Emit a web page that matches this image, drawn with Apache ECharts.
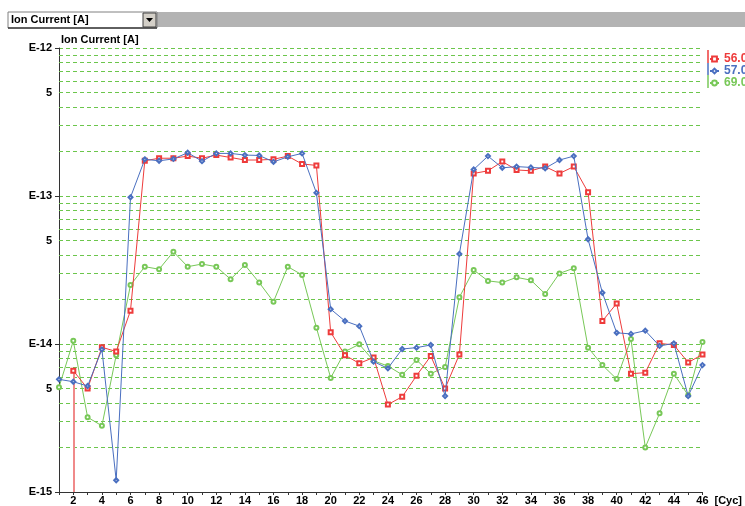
<!DOCTYPE html>
<html>
<head>
<meta charset="utf-8">
<script src="https://cdn.jsdelivr.net/npm/echarts@6/dist/echarts.min.js"></script>
<style>
html,body{margin:0;padding:0;background:#fff;}
#chart{width:745px;height:506px;}
</style>
</head>
<body>
<div id="chart"></div>
<script>
const cycles = [1,2,3,4,5,6,7,8,9,10,11,12,13,14,15,16,17,18,19,20,21,22,23,24,25,26,27,28,29,30,31,32,33,34,35,36,37,38,39,40,41,42,43,44,45,46];
const seriesNames = ['56.00', '57.00', '69.00'];
const ion56 = [null, 6.6e-15, 5.0e-15, 9.5e-15, 8.9e-15, 1.68e-14,
  1.73e-13, 1.80e-13, 1.80e-13, 1.86e-13, 1.80e-13, 1.89e-13, 1.82e-13, 1.75e-13, 1.75e-13, 1.77e-13, 1.86e-13, 1.645e-13, 1.61e-13,
  1.2e-14, 8.4e-15, 7.4e-15, 8.1e-15, 3.9e-15, 4.4e-15, 6.1e-15, 8.3e-15, 5.0e-15, 8.5e-15,
  1.42e-13, 1.48e-13, 1.71e-13, 1.50e-13, 1.48e-13, 1.58e-13, 1.42e-13, 1.58e-13, 1.06e-13,
  1.43e-14, 1.88e-14, 6.3e-15, 6.4e-15, 1.01e-14, 9.85e-15, 7.5e-15, 8.5e-15];
const ion57 = [5.77e-15, 5.56e-15, 5.2e-15, 9.2e-15, 1.2e-15, 0.98e-13,
  1.77e-13, 1.73e-13, 1.78e-13, 1.96e-13, 1.72e-13, 1.94e-13, 1.94e-13, 1.89e-13, 1.88e-13, 1.70e-13, 1.84e-13, 1.94e-13, 1.05e-13,
  1.72e-14, 1.43e-14, 1.32e-14, 7.6e-15, 6.85e-15, 9.25e-15, 9.45e-15, 9.85e-15, 4.45e-15, 4.06e-14,
  1.51e-13, 1.86e-13, 1.55e-13, 1.58e-13, 1.56e-13, 1.54e-13, 1.75e-13, 1.86e-13, 5.1e-14,
  2.22e-14, 1.19e-14, 1.17e-14, 1.23e-14, 9.7e-15, 1.01e-14, 4.45e-15, 7.2e-15];
const ion69 = [5.1e-15, 1.05e-14, 3.2e-15, 2.8e-15, 8.4e-15, 2.5e-14,
  3.33e-14, 3.2e-14, 4.2e-14, 3.33e-14, 3.47e-14, 3.33e-14, 2.74e-14, 3.42e-14, 2.6e-14, 1.93e-14, 3.33e-14, 2.93e-14, 1.29e-14,
  5.9e-15, 8.9e-15, 9.95e-15, 7.7e-15, 7.1e-15, 6.2e-15, 7.8e-15, 6.3e-15, 7.0e-15, 2.07e-14,
  3.16e-14, 2.67e-14, 2.6e-14, 2.82e-14, 2.7e-14, 2.18e-14, 3.0e-14, 3.25e-14, 9.45e-15,
  7.2e-15, 5.8e-15, 1.08e-14, 2.0e-15, 3.4e-15, 6.3e-15, 4.5e-15, 1.03e-14];
const minorGrid = [2e-15,3e-15,4e-15,5e-15,6e-15,7e-15,8e-15,9e-15,
  2e-14,3e-14,4e-14,5e-14,6e-14,7e-14,8e-14,9e-14,
  2e-13,3e-13,4e-13,5e-13,6e-13,7e-13,8e-13,9e-13];
const fiveLabels = [5e-15, 5e-14, 5e-13];
const cursorCycle = 2;

const RED = '#ee3b3b', BLUE = '#4a6fc0', GREEN = '#78c858', GRID = '#6cc64c';
const FONT = '"Liberation Sans", Arial, sans-serif';

const pairs = arr => cycles.map((c, i) => [c, arr[i]]);
const xFirst = cycles[0], xLast = cycles[cycles.length - 1];

const chart = echarts.init(document.getElementById('chart'), null, {renderer: 'canvas'});

const gridLines = minorGrid.map(v => {
  const isFive = fiveLabels.indexOf(v) >= 0;
  const label = isFive
    ? {show: true, position: 'start', formatter: '5', color: '#000', fontWeight: 'bold', fontSize: 11, fontFamily: FONT, distance: 7}
    : {show: false};
  return [{coord: [xFirst, v], label: label}, {coord: [xLast, v]}];
});

const cursorIdx = cycles.indexOf(cursorCycle);

chart.setOption({
  animation: false,
  backgroundColor: '#fff',
  grid: {left: 59, right: 40, top: 48, bottom: 14, containLabel: false},
  legend: {
    orient: 'vertical', left: 709, top: 53, itemWidth: 9, itemHeight: 6, itemGap: 0, padding: 0,
    textStyle: {fontSize: 12, lineHeight: 12, fontWeight: 'bold', fontFamily: FONT},
    data: [
      {name: seriesNames[0], textStyle: {color: RED}},
      {name: seriesNames[1], textStyle: {color: BLUE}},
      {name: seriesNames[2], textStyle: {color: GREEN}}
    ]
  },
  xAxis: {
    type: 'value', min: 1, max: 46, interval: 1,
    name: '[Cyc]', nameLocation: 'end', nameGap: 11,
    nameTextStyle: {color: '#000', fontWeight: 'bold', fontSize: 11, fontFamily: FONT, verticalAlign: 'top', padding: [3, 0, 0, 0]},
    axisLine: {show: true, onZero: false, lineStyle: {color: '#333', width: 1}},
    axisTick: {show: true, length: 3, inside: false, lineStyle: {color: '#333'}},
    axisLabel: {margin: 3, color: '#000', fontWeight: 'bold', fontSize: 11, fontFamily: FONT,
      formatter: v => (v % 2 === 0 ? String(v) : '')},
    splitLine: {show: false}
  },
  yAxis: {
    type: 'log', logBase: 10, min: 1e-15, max: 1e-12,
    name: 'Ion Current [A]', nameLocation: 'end', nameGap: 3,
    nameTextStyle: {color: '#000', fontWeight: 'bold', fontSize: 11, fontFamily: FONT, align: 'left', padding: [0, 0, 0, 2]},
    axisLine: {show: true, lineStyle: {color: '#333', width: 1}},
    axisTick: {show: true, length: 4, lineStyle: {color: '#333'}},
    axisLabel: {margin: 7, color: '#000', fontWeight: 'bold', fontSize: 11, fontFamily: FONT,
      formatter: v => 'E' + Math.round(Math.log10(v))},
    splitLine: {show: true, lineStyle: {color: GRID, type: [4, 3], width: 1}}
  },
  series: [
    {
      name: seriesNames[0], type: 'line', data: pairs(ion56), z: 3,
      symbol: 'emptyRect', symbolSize: 4, connectNulls: false,
      lineStyle: {color: RED, width: 1}, itemStyle: {color: RED, borderWidth: 1},
      markLine: {
        silent: true, symbol: 'none', z: 2, animation: false,
        lineStyle: {color: '#f08a8a', type: 'solid', width: 2},
        label: {show: false},
        data: [[{coord: [cursorCycle, ion56[cursorIdx]]}, {coord: [cursorCycle, 1e-15]}]]
      }
    },
    {
      name: seriesNames[1], type: 'line', data: pairs(ion57), z: 4,
      symbol: 'emptyDiamond', symbolSize: 4,
      lineStyle: {color: BLUE, width: 1}, itemStyle: {color: BLUE, borderWidth: 1}
    },
    {
      name: seriesNames[2], type: 'line', data: pairs(ion69), z: 2,
      symbol: 'emptyCircle', symbolSize: 4,
      lineStyle: {color: GREEN, width: 1}, itemStyle: {color: GREEN, borderWidth: 1},
      markLine: {
        silent: true, symbol: 'none', z: 1, animation: false,
        lineStyle: {color: GRID, type: [4, 3], width: 1},
        data: gridLines
      }
    }
  ],
  graphic: [
    {type: 'rect', shape: {x: 157, y: 12, width: 588, height: 15}, style: {fill: '#b3b3b3'}, silent: true},
    {type: 'rect', shape: {x: 8, y: 12, width: 149, height: 16}, style: {fill: '#fff', stroke: '#808080', lineWidth: 1}, silent: true},
    {type: 'line', shape: {x1: 8, y1: 28, x2: 157, y2: 28}, style: {stroke: '#000', lineWidth: 1}, silent: true},
    {type: 'text', left: 11, top: 14, style: {text: 'Ion Current [A]', font: 'bold 11px "Liberation Sans", Arial, sans-serif', fill: '#000'}, silent: true},
    {type: 'rect', shape: {x: 143, y: 13, width: 13, height: 14}, style: {fill: '#d4d0c8', stroke: '#404040', lineWidth: 1}, silent: true},
    {type: 'polygon', shape: {points: [[146, 18], [153, 18], [149.5, 22]]}, style: {fill: '#000'}, silent: true},
    {type: 'line', shape: {x1: 708, y1: 50, x2: 708, y2: 63}, style: {stroke: RED, lineWidth: 1.5}, silent: true},
    {type: 'line', shape: {x1: 708, y1: 63, x2: 708, y2: 75}, style: {stroke: BLUE, lineWidth: 1.5}, silent: true},
    {type: 'line', shape: {x1: 708, y1: 75, x2: 708, y2: 88}, style: {stroke: GREEN, lineWidth: 1.5}, silent: true}
  ]
});
</script>
</body>
</html>
